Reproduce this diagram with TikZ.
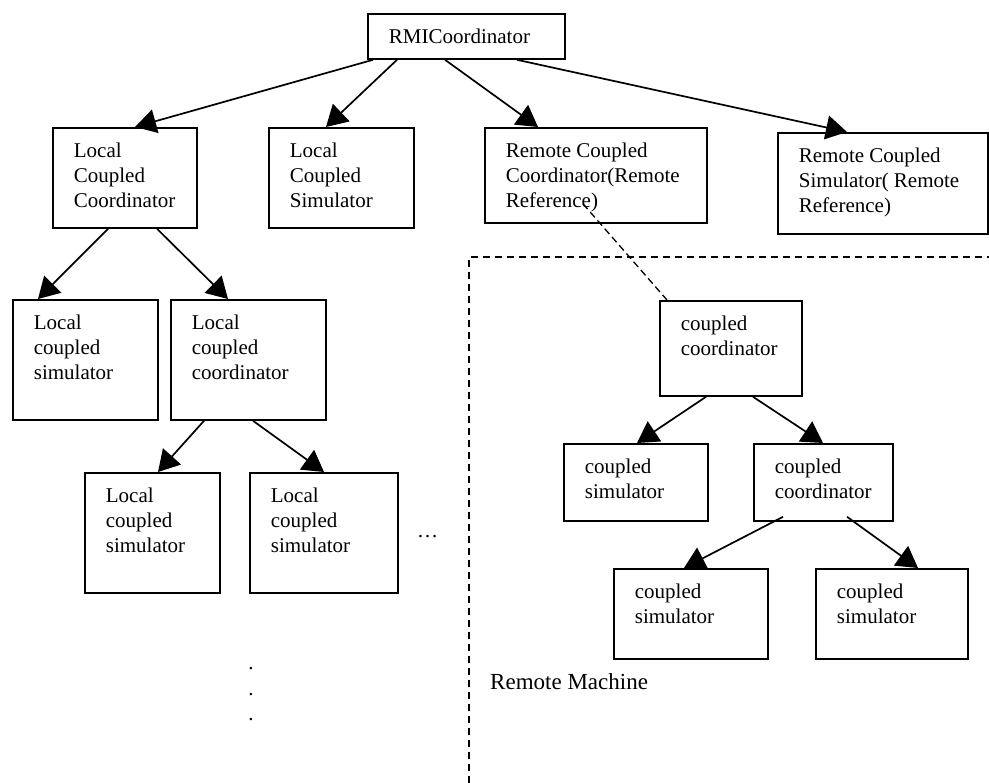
\documentclass[tikz,border=0pt]{standalone}
\usepackage{fontspec}
\setmainfont{Liberation Serif}
\usetikzlibrary{arrows.meta}

% text block of a box: fixed width and height, lines set from the top left
\newcommand\boxtxt[3]{\parbox[c][#2][t]{#1}{\vspace*{12.5pt}\raggedright\leftskip=21pt\strut #3}}

\tikzset{
  box/.style={draw, line width=1.8pt, inner sep=0pt, anchor=north west,
    font=\fontsize{21}{25}\selectfont},
  arr/.style={line width=1.7pt, -{Triangle[length=21pt,width=24pt]}},
  dashline/.style={line width=1.5pt, dash pattern=on 7pt off 5pt},
  dotmark/.style={anchor=base, inner sep=0pt, font=\fontsize{21}{25}\selectfont},
}

\begin{document}
\begin{tikzpicture}[x=1pt, y=-1pt]
\useasboundingbox (0,0) rectangle (989,783);

% top coordinator
\node[box] (rmi) at (367,13) {\boxtxt{197pt}{45pt}{RMICoordinator}};

% first level
\node[box] (lcc) at (52,127)  {\boxtxt{144pt}{100pt}{Local\\Coupled\\Coordinator}};
\node[box] (lcs) at (268,127) {\boxtxt{145pt}{100pt}{Local\\Coupled\\Simulator}};
\node[box] (rcc) at (484,127) {\boxtxt{222pt}{95pt}{Remote Coupled\\Coordinator(Remote\\Reference)}};
\node[box] (rcs) at (777,132) {\boxtxt{210pt}{101pt}{Remote Coupled\\Simulator( Remote\\Reference)}};

% local subtree
\node[box] (lsim) at (12,299)  {\boxtxt{145pt}{120pt}{Local\\coupled\\simulator}};
\node[box] (lco)  at (170,299) {\boxtxt{155pt}{120pt}{Local\\coupled\\coordinator}};
\node[box] (lsa)  at (84,472)  {\boxtxt{135pt}{120pt}{Local\\coupled\\simulator}};
\node[box] (lsb)  at (249,472) {\boxtxt{148pt}{120pt}{Local\\coupled\\simulator}};

% remote subtree
\node[box] (cc)  at (659,300) {\boxtxt{142pt}{95pt}{coupled\\coordinator}};
\node[box] (rsa) at (563,443) {\boxtxt{144pt}{77pt}{coupled\\simulator}};
\node[box] (rco) at (753,443) {\boxtxt{139pt}{77pt}{coupled\\coordinator}};
\node[box] (bsa) at (613,568) {\boxtxt{154pt}{90pt}{coupled\\simulator}};
\node[box] (bsb) at (815,568) {\boxtxt{152pt}{90pt}{coupled\\simulator}};

% ellipses and label
\node[dotmark, anchor=base west] (hdots) at (417,538) {\ldots};
\node[dotmark] (vd1) at (251,670) {.};
\node[dotmark] (vd2) at (251,695) {.};
\node[dotmark] (vd3) at (251,720) {.};
\node[anchor=west, inner sep=0pt, font=\fontsize{23}{27}\selectfont] (rm) at (490,682) {Remote Machine};

% remote machine boundary
\draw[dashline] (469,783) -- (469,257) -- (989,257);

% connectors
\draw[arr] ([xshift=6pt]rmi.south west)   -- ([xshift=83pt]lcc.north west);
\draw[arr] ([xshift=30pt]rmi.south west)  -- ([xshift=58pt]lcs.north west);
\draw[arr] ([xshift=78pt]rmi.south west)  -- ([xshift=54pt]rcc.north west);
\draw[arr] ([xshift=150pt]rmi.south west) -- ([xshift=70pt]rcs.north west);

\draw[arr] ([xshift=56pt]lcc.south west)  -- ([xshift=26pt]lsim.north west);
\draw[arr] ([xshift=105pt]lcc.south west) -- ([xshift=58pt]lco.north west);
\draw[arr] ([xshift=34pt]lco.south west)  -- ([xshift=74pt]lsa.north west);
\draw[arr] ([xshift=83pt]lco.south west)  -- ([xshift=75pt]lsb.north west);

\draw[arr] ([xshift=47pt]cc.south west) -- ([xshift=74pt]rsa.north west);
\draw[arr] ([xshift=94pt]cc.south west) -- ([xshift=70pt]rco.north west);
\draw[arr] ([xshift=30pt,yshift=5pt]rco.south west) -- ([xshift=71pt]bsa.north west);
\draw[arr] ([xshift=94pt,yshift=5pt]rco.south west) -- ([xshift=103pt]bsb.north west);

\draw[line width=1.3pt, dash pattern=on 7pt off 4pt]
  ([xshift=99pt,yshift=20pt]rcc.south west) -- ([xshift=8pt]cc.north west);
\end{tikzpicture}
\end{document}
